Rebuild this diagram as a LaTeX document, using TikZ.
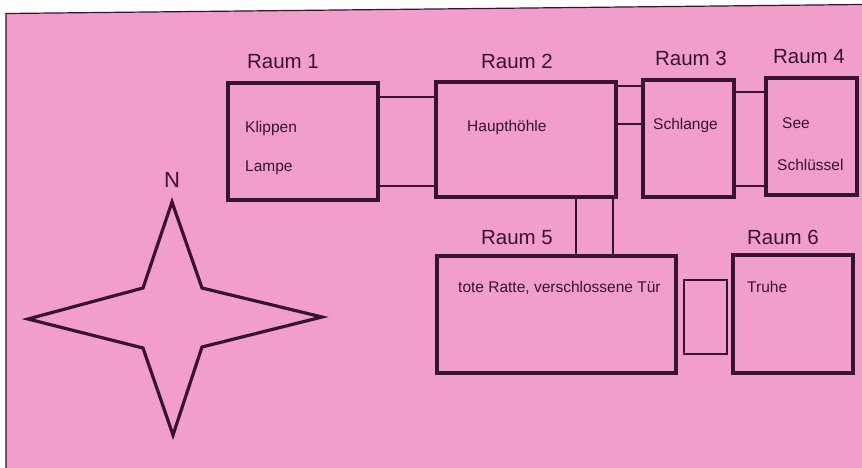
\documentclass[tikz,border=0pt]{standalone}
\usepackage{fontspec}
\setmainfont{Liberation Sans}
\definecolor{bgpink}{RGB}{242,158,202}
\definecolor{ink}{RGB}{52,20,50}
\begin{document}
\begin{tikzpicture}[x=1pt,y=-1pt,
  room/.style={draw=ink,line width=3.4pt,rectangle,inner sep=0pt,outer sep=0pt},
  pass/.style={draw=ink,line width=1.4pt},
  title/.style={text=ink,font=\fontsize{20.5}{22}\selectfont,inner sep=0pt},
  item/.style={text=ink,font=\fontsize{15.5}{17}\selectfont,inner sep=0pt,anchor=west}]
\useasboundingbox (0,0) rectangle (862,468);
\fill[white] (0,0) rectangle (862,468);
\fill[bgpink] (6,13.5) -- (862,4.5) -- (862,468) -- (6,468) -- cycle;
\draw[ink,line width=1.2pt] (6,468) -- (6,13.5) -- (862,4.5);
% rooms
\node[room,minimum width=150pt,minimum height=117pt] (r1) at (303,141.5) {};
\node[room,minimum width=180pt,minimum height=115pt] (r2) at (526,139.5) {};
\node[room,minimum width=91pt,minimum height=117pt] (r3) at (688.5,138.5) {};
\node[room,minimum width=91pt,minimum height=117pt] (r4) at (811.5,136.5) {};
\node[room,minimum width=239pt,minimum height=117pt] (r5) at (556.5,314.5) {};
\node[room,minimum width=120pt,minimum height=118pt] (r6) at (793,314) {};
\node[draw=ink,line width=1.4pt,rectangle,inner sep=0pt,minimum width=43pt,minimum height=74pt] (d56) at (705.5,317) {};
% titles
\node[title] (t1) at (283,62) {Raum 1};
\node[title] (t2) at (517,61) {Raum 2};
\node[title] (t3) at (691,58) {Raum 3};
\node[title] (t4) at (809,57) {Raum 4};
\node[title] (t5) at (517,238) {Raum 5};
\node[title] (t6) at (783,237) {Raum 6};
% contents
\node[item] (k) at (245,128) {Klippen};
\node[item] (l) at (245,168) {Lampe};
\node[item] (h) at (467,127) {Haupthöhle};
\node[item] (s) at (653,125) {Schlange};
\node[item] (see) at (782,123) {See};
\node[item] (sch) at (777,165) {Schlüssel};
\node[item] (tr) at (458,288) {tote Ratte, verschlossene Tür};
\node[item] (tru) at (747,287) {Truhe};
% passages
\draw[pass] (r1.east |- 0,97) -- (r2.west |- 0,97);
\draw[pass] (r1.east |- 0,186) -- (r2.west |- 0,186);
\draw[pass] (r2.east |- 0,86) -- (r3.west |- 0,86);
\draw[pass] (r2.east |- 0,124) -- (r3.west |- 0,124);
\draw[pass] (r3.east |- 0,92) -- (r4.west |- 0,92);
\draw[pass] (r3.east |- 0,186) -- (r4.west |- 0,186);
\draw[pass] (r2.south -| 576,0) -- (r5.north -| 576,0);
\draw[pass] (r2.south -| 613,0) -- (r5.north -| 613,0);
% compass
\node[text=ink,font=\fontsize{22}{24}\selectfont,inner sep=0pt] (n) at (172,180) {N};
\draw[ink,line width=3.2pt,line join=miter]
  (172,202) -- (202,288) -- (322,317) -- (202,347) -- (173,435)
  -- (143,348) -- (28,319) -- (143,288) -- cycle;
\end{tikzpicture}
\end{document}
